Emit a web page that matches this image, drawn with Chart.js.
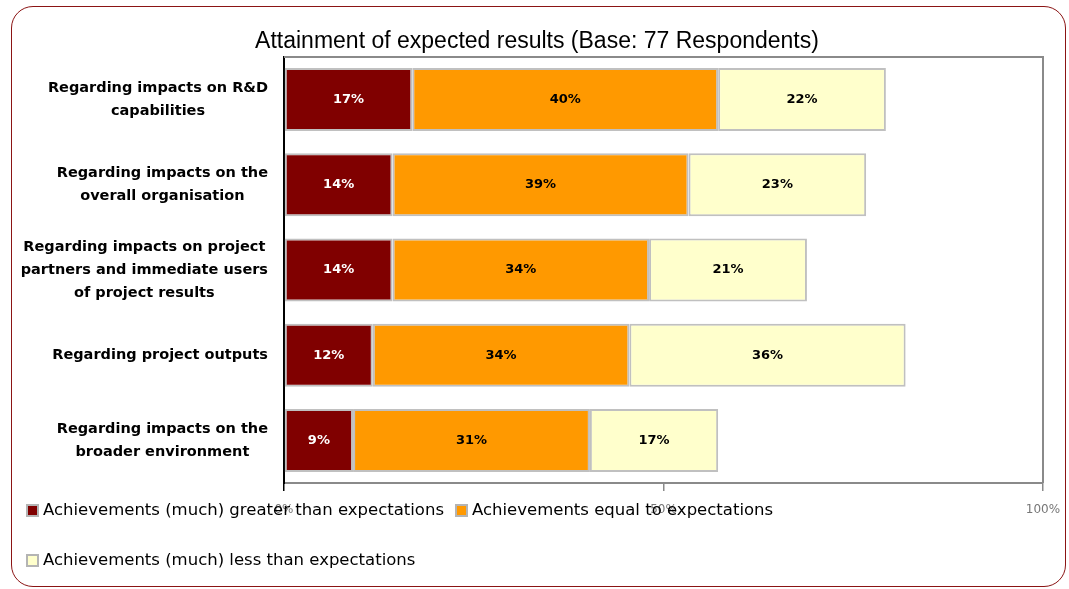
<!DOCTYPE html>
<html><head><meta charset="utf-8">
<script src="https://cdn.jsdelivr.net/npm/chart.js@4.4.0/dist/chart.umd.min.js"></script>
<style>
html,body{margin:0;padding:0;background:#fff;overflow:hidden;}
#wrap{position:relative;width:1069px;height:589px;}
#frame{position:absolute;left:11px;top:6px;width:1053px;height:579px;border:1.5px solid #8b1414;border-radius:22px;}
canvas{position:absolute;left:0;top:0;}
</style></head><body>
<div id="wrap"><div id="frame"></div><canvas id="c" width="1069" height="589"></canvas></div>
<script>
const categories = [
  ['Regarding impacts on R&D', 'capabilities'],
  ['Regarding impacts on the', 'overall organisation'],
  ['Regarding impacts on project', 'partners and immediate users', 'of project results'],
  ['Regarding project outputs'],
  ['Regarding impacts on the', 'broader environment']
];
const seriesNames = [
  'Achievements (much) greater than expectations',
  'Achievements equal to expectations',
  'Achievements (much) less than expectations'
];
const greaterValues = [16.9, 14.3, 14.3, 11.7, 9.1];
const equalValues   = [40.3, 39.0, 33.8, 33.8, 31.2];
const lessValues    = [22.1, 23.4, 20.8, 36.4, 16.9];
const xTickValues = [0, 50, 100];
const titleText = 'Attainment of expected results (Base: 77 Respondents)';

const colors = ['#800000', '#FF9900', '#FFFFCC'];
const labelColors = ['#ffffff', '#000000', '#000000'];

const titleDraw = {
  id: 'titleDraw',
  afterDraw(chart) {
    const ctx = chart.ctx;
    ctx.save();
    ctx.font = '23px "Liberation Sans", Arial, sans-serif';
    ctx.fillStyle = '#000';
    ctx.textAlign = 'center';
    ctx.textBaseline = 'middle';
    ctx.fillText(titleText, 537, 42);
    ctx.restore();
  }
};

const plotBorder = {
  id: 'plotBorder',
  afterDraw(chart) {
    const {ctx, chartArea: a} = chart;
    ctx.save();
    ctx.strokeStyle = '#8a8a8a';
    ctx.lineWidth = 2;
    ctx.beginPath();
    ctx.moveTo(a.left, a.top);
    ctx.lineTo(a.right, a.top);
    ctx.lineTo(a.right, a.bottom);
    ctx.stroke();
    ctx.restore();
  }
};

const barLabels = {
  id: 'barLabels',
  afterDatasetsDraw(chart) {
    const ctx = chart.ctx;
    ctx.save();
    ctx.font = 'bold 13px "DejaVu Sans", sans-serif';
    ctx.textAlign = 'center';
    ctx.textBaseline = 'middle';
    chart.data.datasets.forEach((ds, di) => {
      const meta = chart.getDatasetMeta(di);
      meta.data.forEach((el, i) => {
        const p = el.getProps(['x', 'y', 'base'], true);
        ctx.fillStyle = labelColors[di];
        ctx.fillText(Math.round(ds.data[i]) + '%', (p.x + p.base) / 2, p.y);
      });
    });
    ctx.restore();
  }
};

const catLabels = {
  id: 'catLabels',
  afterDraw(chart) {
    const ctx = chart.ctx;
    const ys = chart.scales.y;
    const right = chart.chartArea.left - 16;
    const lh = 23;
    ctx.save();
    ctx.font = 'bold 14.5px "DejaVu Sans", sans-serif';
    ctx.fillStyle = '#000';
    ctx.textAlign = 'center';
    ctx.textBaseline = 'middle';
    categories.forEach((lines, i) => {
      const yc = ys.getPixelForValue(i);
      const maxW = Math.max(...lines.map(l => ctx.measureText(l).width));
      const cx = right - maxW / 2;
      lines.forEach((l, j) => {
        ctx.fillText(l, cx, yc + (j - (lines.length - 1) / 2) * lh);
      });
    });
    ctx.restore();
  }
};

const legendDraw = {
  id: 'legendDraw',
  afterDraw(chart) {
    const ctx = chart.ctx;
    ctx.save();
    ctx.font = '16.5px "DejaVu Sans", sans-serif';
    ctx.textBaseline = 'middle';
    ctx.textAlign = 'left';
    let x = 26, y = 510;
    const maxRight = 1040;
    chart.data.datasets.forEach((ds, i) => {
      const w = 13 + 4 + ctx.measureText(ds.label).width;
      if (x + w > maxRight) { x = 26; y += 50; }
      ctx.fillStyle = '#b4b4b4';
      ctx.fillRect(x, y - 6, 13, 13);
      ctx.fillStyle = ds.backgroundColor;
      ctx.fillRect(x + 2, y - 4, 9, 9);
      ctx.fillStyle = '#000';
      ctx.fillText(ds.label, x + 17, y + 1);
      x += w + 11;
    });
    ctx.restore();
  }
};

const values = [greaterValues, equalValues, lessValues];

new Chart(document.getElementById('c'), {
  type: 'bar',
  data: {
    labels: categories,
    datasets: seriesNames.map((name, i) => ({
      label: name,
      data: values[i],
      backgroundColor: colors[i],
      borderColor: '#c0c0c0',
      borderWidth: 2,
      borderSkipped: false,
      barPercentage: 0.74,
      categoryPercentage: 1.0
    }))
  },
  options: {
    indexAxis: 'y',
    responsive: false,
    animation: false,
    layout: { padding: { left: 0, right: 26, top: 57, bottom: 66 } },
    plugins: {
      legend: { display: false },
      tooltip: { enabled: false },
      title: { display: false }
    },
    scales: {
      x: {
        type: 'linear',
        stacked: true,
        min: 0,
        max: 100,
        afterBuildTicks: s => { s.ticks = xTickValues.map(v => ({ value: v })); },
        afterFit: s => { s.height = 40; s.paddingLeft = 0; s.paddingRight = 0; },
        ticks: {
          callback: v => v + '%',
          color: '#777',
          font: { family: '"DejaVu Sans", sans-serif', size: 12 },
          padding: 12,
          maxRotation: 0
        },
        grid: {
          display: true,
          drawOnChartArea: false,
          drawTicks: true,
          tickLength: 8,
          lineWidth: 1.5,
          color: c => (c.index === 0 ? '#000' : '#8a8a8a')
        },
        border: { display: true, color: '#8a8a8a', width: 2 }
      },
      y: {
        type: 'category',
        stacked: true,
        afterFit: s => { s.width = 284; },
        ticks: { display: false },
        grid: { display: false },
        border: { display: true, color: '#000', width: 2 }
      }
    }
  },
  plugins: [plotBorder, barLabels, catLabels, legendDraw, titleDraw]
});
</script>
</body></html>
